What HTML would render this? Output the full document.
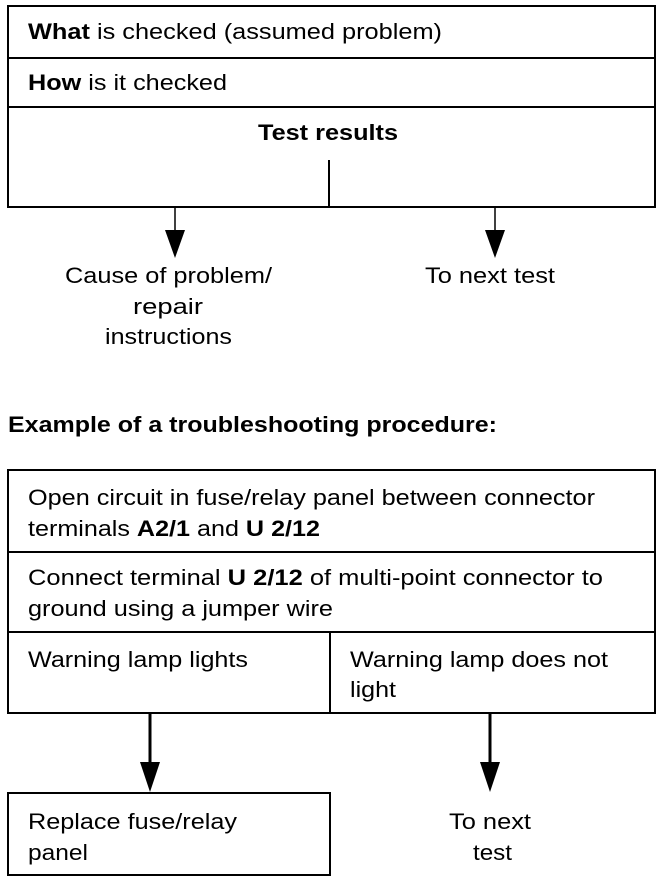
<!DOCTYPE html>
<html><head><style>
body{margin:0;background:#fff;}
svg text{font-family:"Liberation Sans",Arial,sans-serif;font-size:22px;fill:#000;}
.b{font-weight:bold;}
</style></head><body>
<svg width="672" height="886" viewBox="0 0 672 886" xmlns="http://www.w3.org/2000/svg">
<g stroke="#000" stroke-width="2" fill="none">
<rect x="8" y="6" width="647" height="201"/>
<line x1="8" y1="58" x2="655" y2="58"/>
<line x1="8" y1="107" x2="655" y2="107"/>
<line x1="329" y1="160" x2="329" y2="207"/>
<line x1="175" y1="207" x2="175" y2="232" stroke-width="1.5"/>
<line x1="495" y1="207" x2="495" y2="232" stroke-width="1.5"/>
<rect x="8" y="470" width="647" height="243"/>
<line x1="8" y1="552" x2="655" y2="552"/>
<line x1="8" y1="632" x2="655" y2="632"/>
<line x1="330" y1="632" x2="330" y2="713"/>
<line x1="150" y1="713" x2="150" y2="765" stroke-width="3"/>
<line x1="490" y1="713" x2="490" y2="765" stroke-width="3"/>
<rect x="8" y="793" width="322" height="82"/>
</g>
<g fill="#000">
<polygon points="165,230 185,230 175,258"/>
<polygon points="485,230 505,230 495,258"/>
<polygon points="140,762 160,762 150,792"/>
<polygon points="480,762 500,762 490,792"/>
</g>
<g lengthAdjust="spacingAndGlyphs">
<text x="28" y="39" textLength="414" lengthAdjust="spacingAndGlyphs"><tspan class="b">What</tspan> is checked (assumed problem)</text>
<text x="28" y="90" textLength="199" lengthAdjust="spacingAndGlyphs"><tspan class="b">How</tspan> is it checked</text>
<text x="258" y="140" class="b" textLength="140" lengthAdjust="spacingAndGlyphs">Test results</text>
<text x="65" y="283" textLength="207" lengthAdjust="spacingAndGlyphs">Cause of problem/</text>
<text x="133" y="314" textLength="70" lengthAdjust="spacingAndGlyphs">repair</text>
<text x="105" y="344" textLength="127" lengthAdjust="spacingAndGlyphs">instructions</text>
<text x="425" y="283" textLength="130" lengthAdjust="spacingAndGlyphs">To next test</text>
<text x="8" y="432" class="b" textLength="489" lengthAdjust="spacingAndGlyphs">Example of a troubleshooting procedure:</text>
<text x="28" y="505" textLength="567" lengthAdjust="spacingAndGlyphs">Open circuit in fuse/relay panel between connector</text>
<text x="28" y="536" textLength="292" lengthAdjust="spacingAndGlyphs">terminals <tspan class="b">A2/1</tspan> and <tspan class="b">U 2/12</tspan></text>
<text x="28" y="585" textLength="575" lengthAdjust="spacingAndGlyphs">Connect terminal <tspan class="b">U 2/12</tspan> of multi-point connector to</text>
<text x="28" y="616" textLength="305" lengthAdjust="spacingAndGlyphs">ground using a jumper wire</text>
<text x="28" y="667" textLength="220" lengthAdjust="spacingAndGlyphs">Warning lamp lights</text>
<text x="350" y="667" textLength="258" lengthAdjust="spacingAndGlyphs">Warning lamp does not</text>
<text x="350" y="697" textLength="46" lengthAdjust="spacingAndGlyphs">light</text>
<text x="28" y="829" textLength="209" lengthAdjust="spacingAndGlyphs">Replace fuse/relay</text>
<text x="28" y="860" textLength="60" lengthAdjust="spacingAndGlyphs">panel</text>
<text x="449" y="829" textLength="82" lengthAdjust="spacingAndGlyphs">To next</text>
<text x="473" y="860" textLength="39" lengthAdjust="spacingAndGlyphs">test</text>
</g>
</svg>
</body></html>
